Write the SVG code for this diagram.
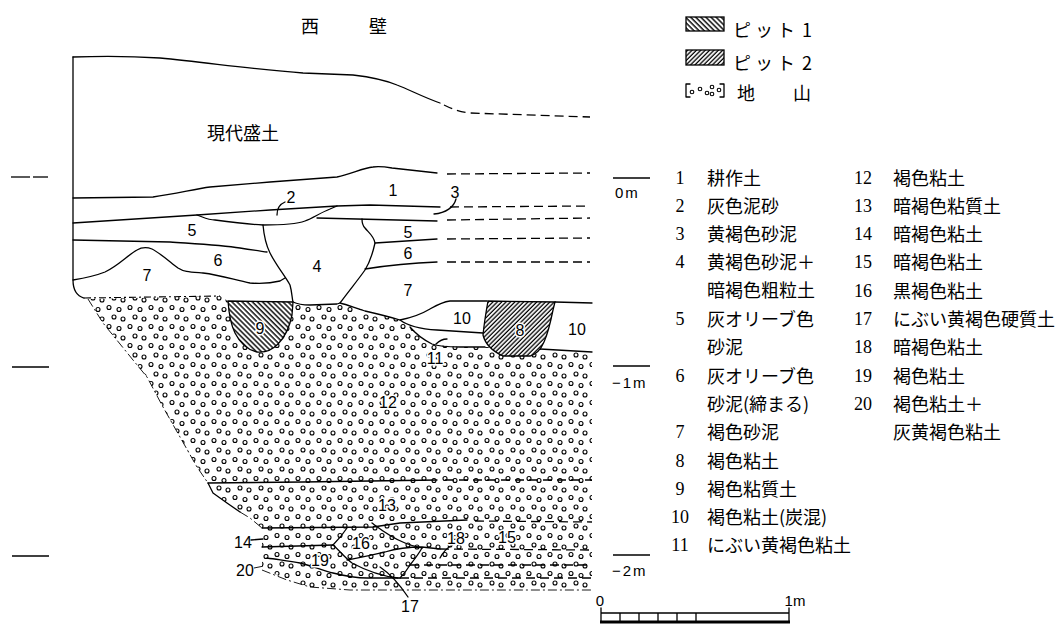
<svg xmlns="http://www.w3.org/2000/svg" width="1063" height="625" viewBox="0 0 1063 625">
<style>
.ln{fill:none;stroke:#000;stroke-width:1.3;stroke-linejoin:round;stroke-linecap:round}
.ds{fill:none;stroke:#000;stroke-width:1.3;stroke-dasharray:9 5}
.dd{fill:none;stroke:#000;stroke-width:1.1;stroke-dasharray:7 3 2 3}
.th{fill:none;stroke:#000;stroke-width:0.9;stroke-dasharray:9 3 2 3}
.num{font-family:"Liberation Sans",Arial,sans-serif;font-size:16px;fill:#000;text-anchor:middle}
.jp{font-family:"Noto Sans CJK JP","Noto Sans CJK SC",sans-serif;font-size:18px;fill:#000}
.ln2{font-family:"Liberation Serif","Times New Roman",serif;font-size:18px;fill:#000;text-anchor:middle}
.lv{font-family:"Liberation Sans",Arial,sans-serif;font-size:15px;fill:#000}
.tk{stroke:#000;stroke-width:1.3}
.wh{paint-order:stroke;stroke:#fff;stroke-width:3}
.dot{fill:none;stroke:#000;stroke-width:1.1}
</style>
<defs>
<pattern id="dots" width="21" height="19" patternUnits="userSpaceOnUse">
<g fill="none" stroke="#000" stroke-width="1.1">
<circle cx="4" cy="3.5" r="2"/><circle cx="14" cy="5.5" r="2"/><circle cx="9" cy="13" r="2"/><circle cx="18" cy="15" r="2"/>
</g>
</pattern>
<pattern id="hatch1" width="3.6" height="4" patternUnits="userSpaceOnUse" patternTransform="rotate(-45)">
<line x1="1" y1="0" x2="1" y2="4" stroke="#000" stroke-width="1.4"/>
</pattern>
<pattern id="hatch2" width="3.1" height="4" patternUnits="userSpaceOnUse" patternTransform="rotate(45)">
<line x1="1" y1="0" x2="1" y2="4" stroke="#000" stroke-width="1.3"/>
</pattern>
</defs>
<rect width="1063" height="625" fill="#fff"/>

<g id="title">
<text class="jp" x="301" y="33" font-size="22">西</text>
<text class="jp" x="369" y="33" font-size="22">壁</text>
</g>

<g id="legend-patterns">
<rect x="686" y="17" width="38" height="14" fill="url(#hatch1)" stroke="#000" stroke-width="1.3"/>
<text class="jp" x="733" y="37" font-size="15" letter-spacing="4" word-spacing="-5">ピット 1</text>
<rect x="686" y="50" width="38" height="15" fill="url(#hatch2)" stroke="#000" stroke-width="1.3"/>
<text class="jp" x="733" y="70" font-size="15" letter-spacing="4" word-spacing="-5">ピット 2</text>
<path class="ln" d="M690,84 L686,84 L686,97 L690,97 M720,84 L724,84 L724,97 L720,97"/>
<circle class="dot" cx="692" cy="92" r="1.8"/><circle class="dot" cx="700" cy="89" r="1.8"/><circle class="dot" cx="707" cy="93" r="1.8"/><circle class="dot" cx="712" cy="87" r="1.8"/><circle class="dot" cx="712" cy="94" r="1.8"/><circle class="dot" cx="719" cy="90" r="1.8"/>
<text class="jp" x="737" y="100" font-size="15">地</text>
<text class="jp" x="793" y="100" font-size="15">山</text>
</g>

<g id="level-ticks">
<line class="tk" x1="11" y1="177" x2="30" y2="177"/>
<line class="tk" x1="33" y1="177" x2="48" y2="177"/>
<line class="tk" x1="12" y1="367" x2="49" y2="367"/>
<line class="tk" x1="12" y1="556" x2="49" y2="556"/>
<line class="tk" x1="613" y1="178" x2="650" y2="178"/>
<text class="lv" x="615" y="198" letter-spacing="2">0m</text>
<line class="tk" x1="613" y1="366" x2="650" y2="366"/>
<text class="lv" x="612" y="388" letter-spacing="2">−1m</text>
<line class="tk" x1="613" y1="555" x2="650" y2="555"/>
<text class="lv" x="612" y="576" letter-spacing="2">−2m</text>
</g>

<g id="jiyama">
<path fill="url(#dots)" d="M88,299 L220,296 L228,301 L293,302 L303,304 L337,304 L340,303 L353,307 L370,312 L400,320 L410,327 L423,338 L437,345 L460,347 L485,347 L540,349 L592,352 L592,590 L350,590 L310,587 L287,580 L267,570 L262,570 L262,528 L250,518 L240,512 L227,503 L213,493 L208,483 L197,467 L180,437 L163,407 L147,377 L133,360 L103,323 Z"/>
<path class="dd" d="M84,298 L220,296"/>
<path class="th" d="M88,299 L103,323 L133,360 L147,377 L163,407 L180,437 L197,467 L208,483"/>
<path class="ln" d="M208,483 L213,493 L227,503 L240,512"/>
<path class="th" d="M240,512 L250,518 L262,528"/>
<path class="th" d="M262,570 L287,580 L310,587 L350,590 L592,590"/>
</g>

<g id="section-lines">
<path class="ln" d="M73,57 C100,56 130,56 160,58 C210,63 260,70 303,73 L353,75 C370,77 385,80 397,85 C410,90 425,98 440,103"/>
<path class="ds" d="M444,105 C452,109 460,112 470,113 L590,117"/>
<path class="ln" d="M73,57 L73,280 C73,290 77,296 84,298"/>
<path class="ln" d="M73,198 L153,197 C175,194 195,189 210,187 L270,182 L337,177 C352,174 362,168 373,167 C380,166 386,167 392,168 L437,173"/>
<path class="ds" d="M447,174 L590,173"/>
<path class="ln" d="M73,223 C120,220 160,217 197,215 L270,210 L337,206 L370,205 L440,207"/>
<path class="ds" d="M450,207 L590,206"/>
<path class="ln" d="M197,215 C203,217 208,220 215,220 C230,222 245,224 263,225 C280,225 297,224 305,221 C313,218 320,213 330,209 L337,206"/>
<path class="ln" d="M317,218 L437,221"/>
<path class="ds" d="M447,220 L590,218"/>
<path class="ln" d="M263,225 C264,236 266,245 270,253 C276,265 285,276 290,285 C292,292 292,298 293,302 C297,304 300,305 310,305 L337,304 L340,303 C348,292 358,280 365,270 C370,262 373,252 375,243 C374,236 368,232 365,228 C362,225 362,222 362,219"/>
<path class="ln" d="M73,240 L170,242 C200,244 222,245 240,248 C252,250 260,251 267,252"/>
<path class="ln" d="M375,243 L437,239"/>
<path class="ds" d="M447,239 L590,238"/>
<path class="ln" d="M365,269 C390,265 410,263 437,262"/>
<path class="ds" d="M447,262 L590,262"/>
<path class="ln" d="M73,280 C85,278 95,276 105,272 C118,266 128,255 137,250 C142,247 147,247 152,249 C160,253 170,262 178,268 C184,272 190,272 203,273 C220,275 235,280 250,283 C262,284 272,283 280,281 L285,278"/>
<path class="ln" d="M340,303 C348,305 355,308 365,311 C378,314 390,317 400,320 C410,318 420,315 430,309 C437,305 442,302 450,301 L487,301"/>
<path class="ln" d="M555,302 L592,303"/>
<path class="ln" d="M400,320 C408,326 420,329 437,330 L483,333"/>
<path class="ln" d="M410,327 C415,333 422,339 432,344 C440,347 450,347 460,347 L485,347"/>
<path class="ln" d="M540,349 L592,352"/>
<path class="ln" d="M208,483 L303,482 L437,480"/>
<path class="ds" d="M445,480 L592,480"/>
<path class="ln" d="M262,528 L373,527 L400,523 L467,520"/>
<path class="ds" d="M475,521 L592,522"/>
<path class="ln" d="M262,547 L333,545"/>
<path class="ln" d="M333,545 C338,540 343,534 347,528"/>
<path class="ln" d="M333,545 C340,551 345,558 352,563 C365,570 380,576 398,578"/>
<path class="ln" d="M347,560 C360,558 372,555 385,552 C395,549 405,547 422,547 L440,549"/>
<path class="ln" d="M372,523 C380,529 390,537 405,543 C412,546 418,547 422,548"/>
<path class="ds" d="M440,549 L592,550"/>
<path class="ln" d="M422,548 C418,555 414,560 410,565 C407,570 404,574 400,578"/>
<path class="ds" d="M410,565 L592,565"/>
<path class="ln" d="M267,558 C280,560 290,561 300,563 C312,566 322,570 333,573 C345,576 355,578 367,578 L400,578"/>
<path class="ds" d="M400,578 L592,578"/>
</g>

<g id="pits">
<path id="pit9" fill="#fff" stroke="#000" stroke-width="1.3" d="M228,301 C229,315 231,325 235,333 C240,343 248,350 257,352 C265,353 272,350 278,344 C286,336 290,325 292,315 L293,302 Z"/>
<path fill="url(#hatch1)" d="M228,301 C229,315 231,325 235,333 C240,343 248,350 257,352 C265,353 272,350 278,344 C286,336 290,325 292,315 L293,302 Z"/>
<path id="pit8" fill="#fff" stroke="#000" stroke-width="1.3" d="M488,301 C486,312 484,325 483,335 C485,343 492,351 503,356 L530,356 C537,354 541,349 544,342 C548,333 551,320 553,310 L555,302 Z"/>
<path fill="url(#hatch2)" d="M488,301 C486,312 484,325 483,335 C485,343 492,351 503,356 L530,356 C537,354 541,349 544,342 C548,333 551,320 553,310 L555,302 Z"/>
</g>

<g id="connectors">
<path class="ln" stroke-width="1" d="M285,202 C280,204 277,209 277,215"/>
<path class="ln" stroke-width="1" d="M456,199 C454,207 446,213 434,214"/>
<path class="ln" stroke-width="1" d="M436,344 C439,341 443,339 447,339"/>
<path class="ln" stroke-width="1" d="M251,540 L263,539"/>
<path class="th" d="M254,568 L264,566"/>
<path class="ln" stroke-width="1" d="M452,545 C447,548 443,552 440,558"/>
<path class="ln" stroke-width="1" d="M408,597 C400,585 392,575 380,567"/>
</g>

<g id="section-labels">
<text class="jp" x="207" y="140">現代盛土</text>
<text class="num" x="393" y="196">1</text>
<text class="num" x="291" y="203">2</text>
<text class="num" x="455" y="198">3</text>
<text class="num" x="192" y="236">5</text>
<text class="num" x="408" y="238">5</text>
<text class="num" x="218" y="266">6</text>
<text class="num" x="408" y="259">6</text>
<text class="num" x="317" y="272">4</text>
<text class="num" x="147" y="281">7</text>
<text class="num" x="408" y="296">7</text>
<text class="num wh" x="260" y="334">9</text>
<text class="num wh" x="520" y="336">8</text>
<text class="num" x="462" y="324">10</text>
<text class="num" x="577" y="335">10</text>
<text class="num wh" x="435" y="364">11</text>
<text class="num wh" x="388" y="408">12</text>
<text class="num wh" x="387" y="511">13</text>
<text class="num" x="243" y="548">14</text>
<text class="num wh" x="361" y="549">16</text>
<text class="num wh" x="456" y="544">18</text>
<text class="num wh" x="507" y="543">15</text>
<text class="num wh" x="320" y="566">19</text>
<text class="num" x="245" y="576">20</text>
<text class="num" x="410" y="612">17</text>
</g>

<g id="legend-layers">
<text class="ln2" x="680" y="184">1</text><text class="jp" x="707" y="185">耕作土</text>
<text class="ln2" x="680" y="212">2</text><text class="jp" x="707" y="213">灰色泥砂</text>
<text class="ln2" x="680" y="240">3</text><text class="jp" x="707" y="241">黄褐色砂泥</text>
<text class="ln2" x="680" y="268">4</text><text class="jp" x="707" y="269">黄褐色砂泥＋</text>
<text class="jp" x="707" y="297">暗褐色粗粒土</text>
<text class="ln2" x="680" y="325">5</text><text class="jp" x="707" y="326">灰オリーブ色</text>
<text class="jp" x="707" y="354">砂泥</text>
<text class="ln2" x="680" y="382">6</text><text class="jp" x="707" y="383">灰オリーブ色</text>
<text class="jp" x="707" y="411">砂泥(締まる)</text>
<text class="ln2" x="680" y="438">7</text><text class="jp" x="707" y="439">褐色砂泥</text>
<text class="ln2" x="680" y="467">8</text><text class="jp" x="707" y="468">褐色粘土</text>
<text class="ln2" x="680" y="495">9</text><text class="jp" x="707" y="496">褐色粘質土</text>
<text class="ln2" x="680" y="523">10</text><text class="jp" x="707" y="524">褐色粘土(炭混)</text>
<text class="ln2" x="680" y="551">11</text><text class="jp" x="707" y="552">にぶい黄褐色粘土</text>
<text class="ln2" x="863" y="184">12</text><text class="jp" x="893" y="185">褐色粘土</text>
<text class="ln2" x="863" y="212">13</text><text class="jp" x="893" y="213">暗褐色粘質土</text>
<text class="ln2" x="863" y="240">14</text><text class="jp" x="893" y="241">暗褐色粘土</text>
<text class="ln2" x="863" y="268">15</text><text class="jp" x="893" y="269">暗褐色粘土</text>
<text class="ln2" x="863" y="297">16</text><text class="jp" x="893" y="298">黒褐色粘土</text>
<text class="ln2" x="863" y="325">17</text><text class="jp" x="893" y="326">にぶい黄褐色硬質土</text>
<text class="ln2" x="863" y="353">18</text><text class="jp" x="893" y="354">暗褐色粘土</text>
<text class="ln2" x="863" y="382">19</text><text class="jp" x="893" y="383">褐色粘土</text>
<text class="ln2" x="863" y="410">20</text><text class="jp" x="893" y="411">褐色粘土＋</text>
<text class="jp" x="893" y="439">灰黄褐色粘土</text>
</g>

<g id="scale-bar">
<text class="lv" x="600" y="606" text-anchor="middle" font-size="14">0</text>
<text class="lv" x="795" y="606" text-anchor="middle" font-size="14">1m</text>
<path class="ln" d="M601,608 L601,622 M789,608 L789,622 M601,613 L789,613 M620,613 L620,622 M639,613 L639,622 M658,613 L658,622 M677,613 L677,622 M696,613 L696,622"/>
<line x1="600" y1="622" x2="790" y2="622" stroke="#000" stroke-width="3"/>
</g>
</svg>
